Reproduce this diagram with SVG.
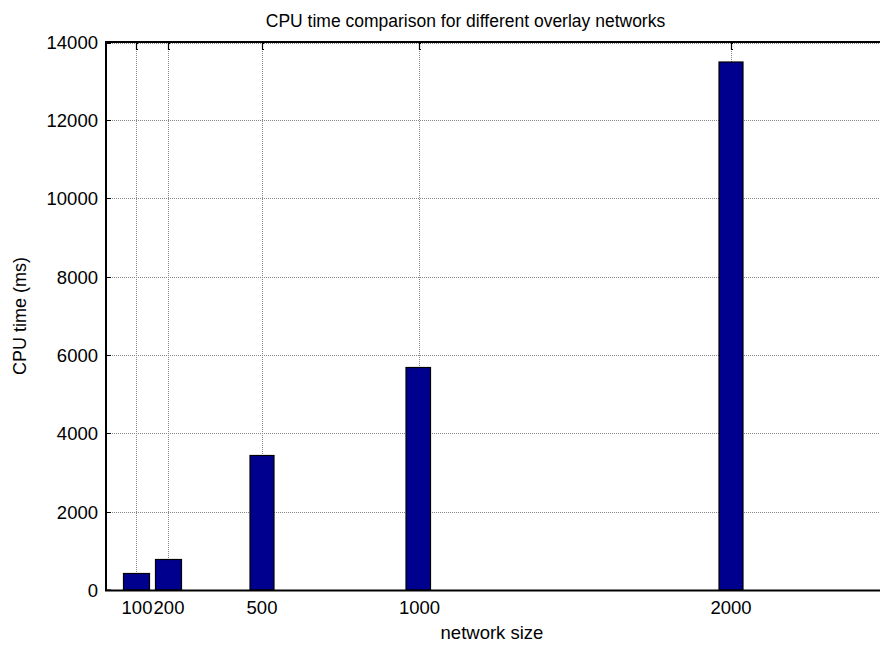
<svg xmlns="http://www.w3.org/2000/svg" width="880" height="646" viewBox="0 0 880 646">
<style>
text{font-family:"Liberation Sans",Arial,sans-serif;fill:#000}
.tl{font-size:18.5px}
.grid{stroke:#888;stroke-width:1;stroke-dasharray:1,1;fill:none}
.axis{stroke:#000;stroke-width:2;fill:none}
.tick{stroke:#000;stroke-width:1.2;fill:none}
.bar{fill:#00008f;stroke:#000;stroke-width:1.2}
</style>
<rect width="880" height="646" fill="#fff"/>
<g id="grid">
<path class="grid" d="M106 43.5H880M106 120.5H880M106 198.5H880M106 277.5H880M106 355.5H880M106 433.5H880M106 512.5H880"/>
<path class="grid" d="M136.5 43V590M168.5 43V590M262.5 43V590M419.5 43V590M731.5 43V590"/>
</g>
<g id="bars">
<rect class="bar" x="123.5" y="573.5" width="26" height="16.5"/>
<rect class="bar" x="155.5" y="559.5" width="26" height="30.5"/>
<rect class="bar" x="250" y="455.5" width="24" height="134.5"/>
<rect class="bar" x="406" y="367.5" width="24.5" height="222.5"/>
<rect class="bar" x="719" y="62" width="24" height="528"/>
</g>
<g id="axes">
<path class="axis" d="M106 42V591M105 590.5H880M105 42H880"/>
<path class="tick" d="M106 43.5h5M106 120.5h5M106 198.5h5M106 277.5h5M106 355.5h5M106 433.5h5M106 512.5h5M106 590h5"/>
<path class="tick" d="M138 43.5h-1.5v6h1.5M170 43.5h-1.5v6h1.5M264 43.5h-1.5v6h1.5M421 43.5h-1.5v6h1.5M733 43.5h-1.5v6h1.5"/>
</g>
<g id="ylabels" class="tl" text-anchor="end">
<text x="98" y="49">14000</text>
<text x="98" y="127">12000</text>
<text x="98" y="205">10000</text>
<text x="98" y="284">8000</text>
<text x="98" y="362">6000</text>
<text x="98" y="440">4000</text>
<text x="98" y="519">2000</text>
<text x="98" y="597">0</text>
</g>
<g id="xlabels" class="tl" text-anchor="middle">
<text x="137" y="614">100</text>
<text x="169" y="614">200</text>
<text x="262" y="614">500</text>
<text x="419.5" y="614">1000</text>
<text x="731" y="614">2000</text>
</g>
<text x="465.5" y="27" font-size="17.5" text-anchor="middle">CPU time comparison for different overlay networks</text>
<text x="492" y="639" font-size="18.5" text-anchor="middle">network size</text>
<text transform="translate(26 316) rotate(-90)" font-size="18" text-anchor="middle">CPU time (ms)</text>
</svg>
